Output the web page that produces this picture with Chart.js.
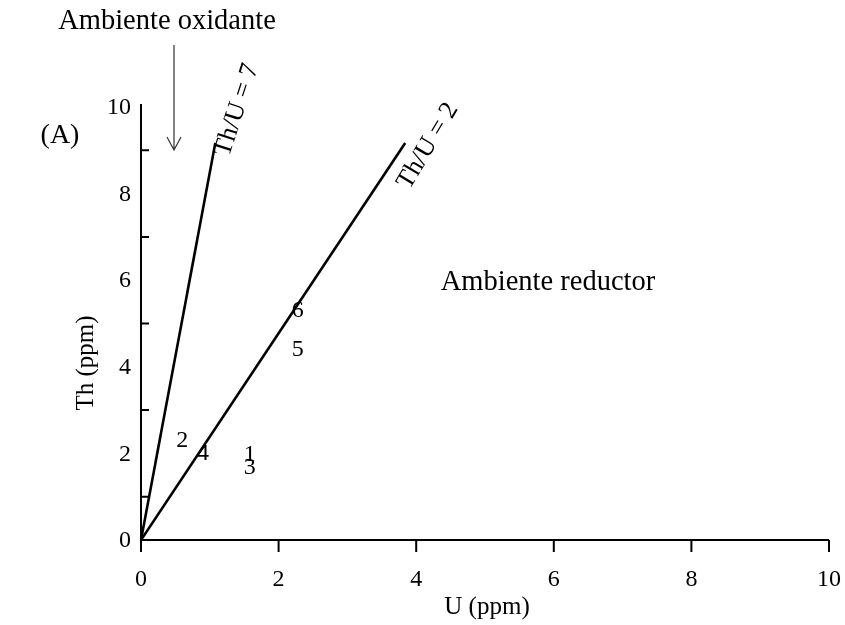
<!DOCTYPE html>
<html>
<head>
<meta charset="utf-8">
<script src="https://cdn.jsdelivr.net/npm/chart.js@4"></script>
<style>
  body { margin: 0; background: #fff; }
  #wrap { width: 845px; height: 625px; position: relative; }
</style>
</head>
<body>
<div id="wrap"><canvas id="chart"></canvas></div>
<script>
// muestras: numero, U (ppm), Th (ppm)
const sampleIds = ["1", "2", "3", "4", "5", "6"];
const uPpm  = [1.58, 0.60, 1.58, 0.90, 2.28, 2.28];
const thPpm = [1.96, 2.29, 1.66, 2.00, 4.39, 5.29];

// rectas de referencia Th/U (extremos)
const lineThU7 = { u: [0, 1.08], th: [0, 9.17] };
const lineThU2 = { u: [0, 3.84], th: [0, 9.17] };

const xTicks = [0, 2, 4, 6, 8, 10];
const yTicks = [0, 2, 4, 6, 8, 10];
const yMinorTicks = [1, 3, 5, 7, 9];

const FONT = '"Liberation Serif", "Times New Roman", serif';

function toPoints(xs, ys) {
    return xs.map((x, i) => ({ x: x, y: ys[i] }));
}

// dibuja ejes, marcas, etiquetas, numeros de muestra y textos
const decorPlugin = {
    id: "decor",
    afterDatasetsDraw(chart) {
        const ctx = chart.ctx;
        const xs = chart.scales.x;
        const ys = chart.scales.y;
        const x0 = xs.getPixelForValue(0);
        const y0 = ys.getPixelForValue(0);

        ctx.save();
        ctx.strokeStyle = "#000";
        ctx.lineWidth = 2;

        // ejes
        ctx.beginPath();
        ctx.moveTo(x0, ys.getPixelForValue(10) - 3);
        ctx.lineTo(x0, y0 + 12);
        ctx.moveTo(x0, y0);
        ctx.lineTo(xs.getPixelForValue(10), y0);
        ctx.stroke();

        // marcas eje x (hacia abajo)
        ctx.beginPath();
        xTicks.forEach(v => {
            const px = xs.getPixelForValue(v);
            ctx.moveTo(px, y0);
            ctx.lineTo(px, y0 + 12);
        });
        // marcas eje y (hacia dentro)
        yMinorTicks.forEach(v => {
            const py = ys.getPixelForValue(v);
            ctx.moveTo(x0, py);
            ctx.lineTo(x0 + 8, py);
        });
        ctx.stroke();

        // etiquetas de los ejes
        ctx.fillStyle = "#000";
        ctx.font = "24px " + FONT;
        ctx.textAlign = "center";
        ctx.textBaseline = "middle";
        xTicks.forEach(v => ctx.fillText(String(v), xs.getPixelForValue(v), y0 + 40));
        ctx.textAlign = "right";
        yTicks.forEach(v => ctx.fillText(String(v), x0 - 10, ys.getPixelForValue(v) + 1));

        // numeros de muestra
        ctx.textAlign = "center";
        ctx.font = "24px " + FONT;
        const meta = chart.getDatasetMeta(2);
        meta.data.forEach((pt, i) => {
            ctx.fillText(sampleIds[i], pt.x, pt.y);
        });

        // titulos de ejes
        ctx.font = "25px " + FONT;
        ctx.fillText("U (ppm)", 487, 607);
        ctx.save();
        ctx.translate(86, 363);
        ctx.rotate(-Math.PI / 2);
        ctx.fillText("Th (ppm)", 0, 0);
        ctx.restore();

        // textos
        ctx.font = "28.5px " + FONT;
        ctx.fillText("Ambiente oxidante", 167, 22);
        ctx.fillText("Ambiente reductor", 548, 283);
        ctx.font = "28px " + FONT;
        ctx.fillText("(A)", 60, 136);

        ctx.font = "26px " + FONT;
        ctx.save();
        ctx.translate(237, 110);
        ctx.rotate(-72 * Math.PI / 180);
        ctx.fillText("Th/U = 7", 0, 0);
        ctx.restore();
        ctx.save();
        ctx.translate(428, 146);
        ctx.rotate(-59 * Math.PI / 180);
        ctx.fillText("Th/U = 2", 0, 0);
        ctx.restore();

        // flecha
        ctx.strokeStyle = "#333";
        ctx.lineWidth = 1.2;
        ctx.beginPath();
        ctx.moveTo(174, 45);
        ctx.lineTo(174, 150);
        ctx.moveTo(167, 137);
        ctx.lineTo(174, 150);
        ctx.lineTo(181, 137);
        ctx.stroke();

        ctx.restore();
    }
};

new Chart(document.getElementById("chart"), {
    type: "scatter",
    data: {
        datasets: [
            {
                label: "Th/U = 7",
                data: toPoints(lineThU7.u, lineThU7.th),
                showLine: true,
                borderColor: "#000",
                borderWidth: 2.6,
                pointRadius: 0
            },
            {
                label: "Th/U = 2",
                data: toPoints(lineThU2.u, lineThU2.th),
                showLine: true,
                borderColor: "#000",
                borderWidth: 2.6,
                pointRadius: 0
            },
            {
                label: "Muestras",
                data: toPoints(uPpm, thPpm),
                pointRadius: 0
            }
        ]
    },
    options: {
        responsive: true,
        maintainAspectRatio: false,
        animation: false,
        layout: { padding: { top: 107, right: 16, bottom: 0, left: 0 } },
        plugins: {
            legend: { display: false },
            tooltip: { enabled: false }
        },
        scales: {
            x: {
                min: 0, max: 10,
                afterFit: s => { s.height = 85; },
                grid: { display: false, drawTicks: false },
                border: { display: false },
                ticks: { display: false }
            },
            y: {
                min: 0, max: 10,
                afterFit: s => { s.width = 141; },
                grid: { display: false, drawTicks: false },
                border: { display: false },
                ticks: { display: false }
            }
        }
    },
    plugins: [decorPlugin]
});
</script>
</body>
</html>
